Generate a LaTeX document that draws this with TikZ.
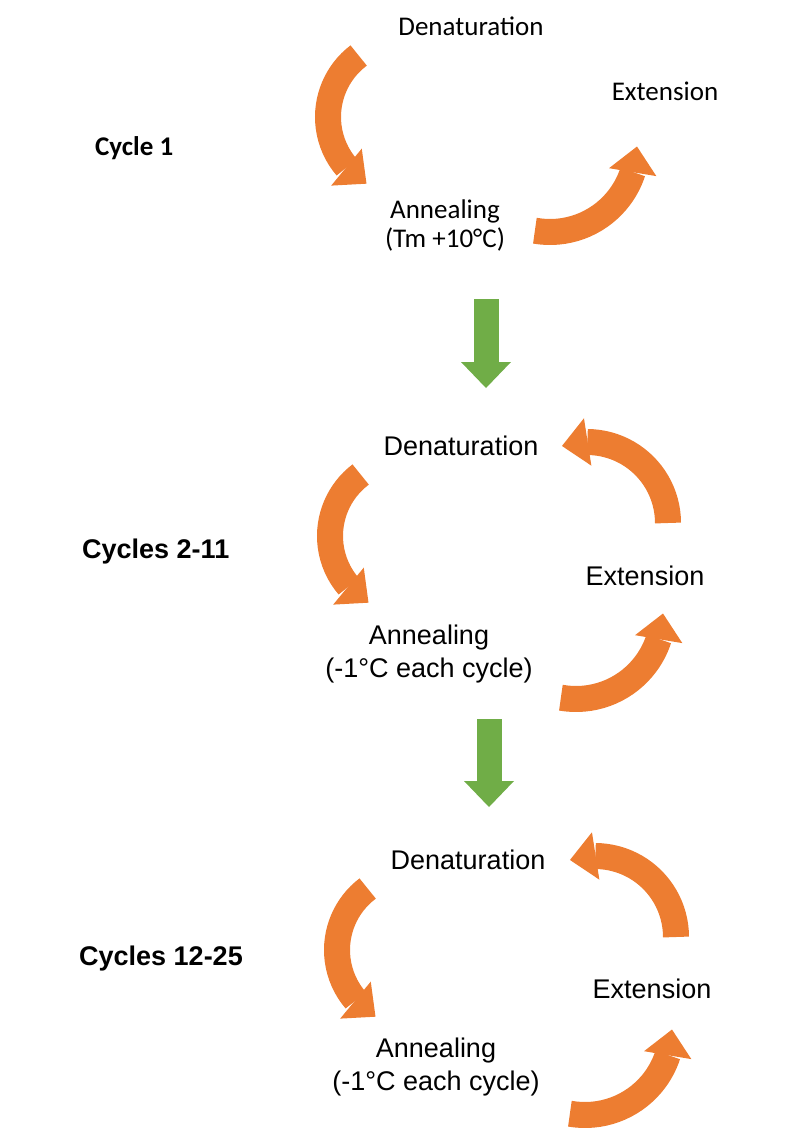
\documentclass[tikz,border=0pt]{standalone}
\usepackage{fontspec}
\setmainfont{Liberation Sans}
\newfontfamily\carlito{Carlito}
\usetikzlibrary{arrows.meta,bending}
\definecolor{pcrorange}{HTML}{ED7D31}
\definecolor{pcrgreen}{HTML}{70AD47}
\tikzset{
  steplabel/.style={inner sep=0pt, anchor=base, align=center, font=\fontsize{27}{33}\selectfont},
  firstlabel/.style={steplabel, font=\carlito\fontsize{27}{29}\selectfont},
  cyclelabel/.style={inner sep=0pt, anchor=base west, font=\fontsize{27}{33}\selectfont\bfseries},
  turn/.style={pcrorange, line width=26pt, -{Triangle[length=26pt,width=48pt,line width=0pt,flex]}},
  nextcycle/.style={pcrgreen, line width=25pt, -{Triangle[length=26pt,width=50pt,line width=0pt]}},
}
\begin{document}
\begin{tikzpicture}[x=1pt,y=-1pt]
  \useasboundingbox (0,0) rectangle (800,1130);

  % cycle 1
  \node[cyclelabel, font=\carlito\fontsize{27}{29}\selectfont\bfseries] (cyc1) at (95,155) {Cycle 1};
  \node[firstlabel] (den1) at (471,35) {Denaturation};
  \node[firstlabel] (ext1) at (665,100) {Extension};
  \node[firstlabel] (ann1) at (445,247) {Annealing\\(Tm +10°C)};
  \coordinate (down1) at (405,117);
  \coordinate (up1) at (550,145);
  \draw[turn] (down1) ++(233:77) arc[start angle=233, end angle=120, radius=77];
  \draw[turn] (up1) ++(100:87) arc[start angle=100, end angle=1, radius=87];

  \coordinate (go1) at (486,299);
  \coordinate (go1end) at (486,388);
  \draw[nextcycle] (go1) -- (go1end);

  % cycles 2-11
  \node[cyclelabel] (cyc2) at (82,558) {Cycles 2-11};
  \node[steplabel] (den2) at (461,455) {Denaturation};
  \node[steplabel] (ext2) at (645,585) {Extension};
  \node[steplabel] (ann2) at (429,677) {Annealing\\(-1°C each cycle)};
  \coordinate (down2) at (407,536);
  \coordinate (up2) at (576,612);
  \coordinate (back2) at (587,523);
  \draw[turn] (down2) ++(233:77) arc[start angle=233, end angle=120, radius=77];
  \draw[turn] (up2) ++(100:87) arc[start angle=100, end angle=1, radius=87];
  \draw[turn] (back2) ++(0:81) arc[start angle=0, end angle=-108, radius=81];

  \coordinate (go2) at (489,719);
  \coordinate (go2end) at (489,807);
  \draw[nextcycle] (go2) -- (go2end);

  % cycles 12-25
  \node[cyclelabel] (cyc3) at (79,965) {Cycles 12-25};
  \node[steplabel] (den3) at (468,869) {Denaturation};
  \node[steplabel] (ext3) at (652,998) {Extension};
  \node[steplabel] (ann3) at (436,1090) {Annealing\\(-1°C each cycle)};
  \coordinate (down3) at (414,950);
  \coordinate (up3) at (585,1028);
  \coordinate (back3) at (595,937);
  \draw[turn] (down3) ++(233:77) arc[start angle=233, end angle=120, radius=77];
  \draw[turn] (up3) ++(100:87) arc[start angle=100, end angle=1, radius=87];
  \draw[turn] (back3) ++(0:81) arc[start angle=0, end angle=-108, radius=81];
\end{tikzpicture}
\end{document}
